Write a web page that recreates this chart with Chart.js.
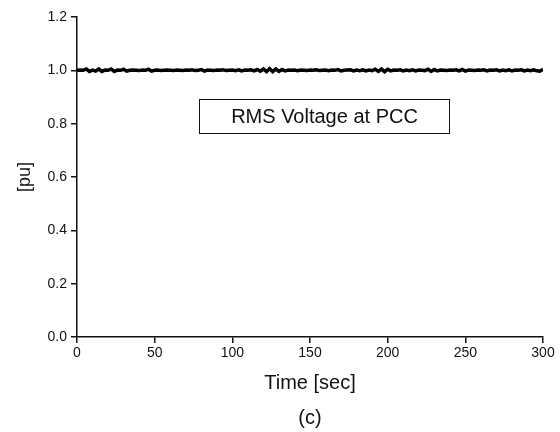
<!DOCTYPE html>
<html>
<head>
<meta charset="utf-8">
<title>RMS Voltage at PCC</title>
<script src="https://cdn.jsdelivr.net/npm/chart.js@4.4.1/dist/chart.umd.min.js"></script>
<style>
    html, body { margin: 0; padding: 0; background: #fff; }
    #wrap { width: 560px; height: 432px; }
</style>
</head>
<body>
<div id="wrap"><canvas id="rmsChart" width="560" height="432"></canvas></div>
<script>
// Sample times [sec]
const timeSec = [
    0, 2, 4, 6, 8, 10, 12, 14, 16, 18, 20, 22, 24, 26, 28, 30, 32, 34, 36, 38,
    40, 42, 44, 46, 48, 50, 52, 54, 56, 58, 60, 62, 64, 66, 68, 70, 72, 74, 76, 78,
    80, 82, 84, 86, 88, 90, 92, 94, 96, 98, 100, 102, 104, 106, 108, 110, 112, 114, 116, 118,
    120, 122, 124, 126, 128, 130, 132, 134, 136, 138, 140, 142, 144, 146, 148, 150, 152, 154, 156, 158,
    160, 162, 164, 166, 168, 170, 172, 174, 176, 178, 180, 182, 184, 186, 188, 190, 192, 194, 196, 198,
    200, 202, 204, 206, 208, 210, 212, 214, 216, 218, 220, 222, 224, 226, 228, 230, 232, 234, 236, 238,
    240, 242, 244, 246, 248, 250, 252, 254, 256, 258, 260, 262, 264, 266, 268, 270, 272, 274, 276, 278,
    280, 282, 284, 286, 288, 290, 292, 294, 296, 298, 300
];

// RMS voltage at the PCC [pu]
const rmsVoltage = [
    1.000, 1.001, 1.000, 1.005, 0.996, 1.001, 0.997, 1.005, 0.996, 1.001,
    1.000, 1.005, 0.996, 1.001, 1.000, 1.004, 0.997, 1.000, 1.001, 1.000,
    0.999, 1.001, 1.000, 1.004, 0.997, 1.000, 1.001, 0.999, 1.000, 1.001,
    1.000, 0.999, 1.001, 1.000, 0.999, 1.001, 1.000, 1.002, 0.999, 1.000,
    1.003, 0.997, 1.001, 1.000, 0.999, 1.001, 1.000, 1.002, 0.999, 1.000,
    1.001, 0.999, 1.002, 0.998, 1.001, 1.000, 1.002, 0.998, 1.003, 0.997,
    1.005, 0.995, 1.006, 0.995, 1.005, 0.996, 1.003, 0.998, 1.001, 1.000,
    1.001, 0.999, 1.001, 1.000, 0.999, 1.001, 1.000, 1.002, 0.999, 1.000,
    1.001, 0.999, 1.001, 1.000, 1.003, 0.998, 1.000, 1.001, 1.002, 0.998,
    1.001, 0.999, 1.002, 0.998, 1.001, 0.999, 1.004, 0.996, 1.005, 0.995,
    1.004, 0.998, 1.001, 1.000, 1.002, 0.998, 1.001, 0.999, 1.002, 0.998,
    1.001, 1.000, 0.999, 1.004, 0.996, 1.003, 0.998, 1.001, 1.000, 0.999,
    1.001, 1.000, 1.002, 0.998, 1.003, 0.997, 1.001, 1.000, 0.999, 1.001,
    1.000, 1.002, 0.998, 1.001, 1.000, 1.002, 0.998, 1.001, 0.999, 1.002,
    0.998, 1.001, 1.000, 1.002, 0.998, 1.001, 0.999, 1.002, 0.998, 0.997,
    1.004
];

const yTicks = [0.0, 0.2, 0.4, 0.6, 0.8, 1.0, 1.2];
const xTicks = [0, 50, 100, 150, 200, 250, 300];

const FONT = '"Liberation Sans", Arial, sans-serif';
const INK = '#111';

// Boxed label inside the plot
const labelBox = {
    id: 'labelBox',
    afterDatasetsDraw(chart) {
        const ctx = chart.ctx;
        const a = chart.chartArea;
        const x = a.left + 122.5, y = a.top + 82.5, w = 250, h = 34;
        ctx.save();
        ctx.fillStyle = '#fff';
        ctx.fillRect(x, y, w, h);
        ctx.strokeStyle = INK;
        ctx.lineWidth = 1;
        ctx.strokeRect(x, y, w, h);
        ctx.fillStyle = INK;
        ctx.font = '20px ' + FONT;
        ctx.textAlign = 'center';
        ctx.textBaseline = 'middle';
        ctx.fillText('RMS Voltage at PCC', x + w / 2, y + h / 2 + 1);
        ctx.restore();
    }
};

const ctx = document.getElementById('rmsChart').getContext('2d');
new Chart(ctx, {
    type: 'line',
    data: {
        datasets: [{
            label: 'RMS Voltage at PCC',
            data: timeSec.map((t, i) => ({ x: t, y: rmsVoltage[i] })),
            borderColor: '#000',
            borderWidth: 3.5,
            pointRadius: 0,
            tension: 0,
            fill: false
        }]
    },
    options: {
        responsive: false,
        animation: false,
        layout: { padding: { left: 0, right: 17, top: 17, bottom: 0 } },
        plugins: {
            legend: { display: false },
            tooltip: { enabled: false },
            title: {
                display: true,
                position: 'bottom',
                fullSize: false,
                text: '(c)',
                color: INK,
                font: { family: FONT, size: 20, weight: 'normal' },
                padding: { top: 11, bottom: 2 }
            }
        },
        scales: {
            x: {
                type: 'linear',
                min: 0,
                max: 300,
                afterBuildTicks: scale => { scale.ticks = xTicks.map(v => ({ value: v })); },
                afterFit: scale => { scale.height = 58; },
                grid: { drawOnChartArea: false, drawTicks: true, tickLength: 6, color: INK, lineWidth: 1.5 },
                border: { color: INK, width: 1.5 },
                ticks: { color: INK, padding: 2, maxRotation: 0, font: { family: FONT, size: 14 } },
                title: {
                    display: true,
                    text: 'Time [sec]',
                    color: INK,
                    font: { family: FONT, size: 20 },
                    padding: { top: 0, bottom: 0 }
                }
            },
            y: {
                min: 0,
                max: 1.2,
                afterBuildTicks: scale => { scale.ticks = yTicks.map(v => ({ value: v })); },
                afterFit: scale => { scale.width = 77; },
                grid: { drawOnChartArea: false, drawTicks: true, tickLength: 6, color: INK, lineWidth: 1.5 },
                border: { color: INK, width: 1.5 },
                ticks: {
                    color: INK,
                    padding: 4,
                    font: { family: FONT, size: 14 },
                    callback: value => Number(value).toFixed(1)
                },
                title: {
                    display: true,
                    text: '[pu]',
                    color: INK,
                    font: { family: FONT, size: 18 },
                    padding: { top: 14, bottom: 0 }
                }
            }
        }
    },
    plugins: [labelBox]
});
</script>
</body>
</html>
